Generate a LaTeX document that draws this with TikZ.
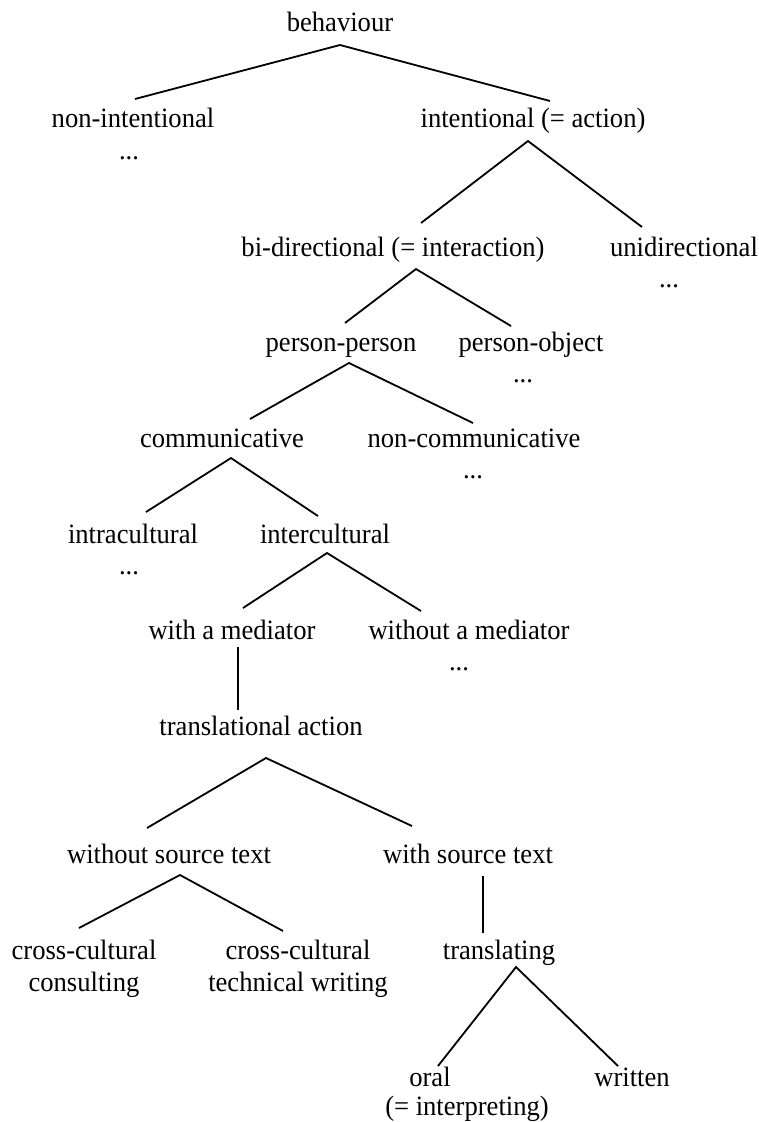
\documentclass[tikz,border=0pt]{standalone}
\usepackage{fontspec}
\setmainfont{Liberation Serif}[FakeStretch=0.95]
\begin{document}
\begin{tikzpicture}[x=1pt,y=-1pt,
  lbl/.style={inner sep=0pt, anchor=base, font=\fontsize{28}{32}\selectfont},
  lbltwo/.style={lbl, align=center},
  edge/.style={line width=1.8pt, line join=miter}]
\fill[white] (0,0) rectangle (759,1122);
\useasboundingbox (0,0) rectangle (759,1122);
% labels
\node[lbl] (beh) at (340,31) {behaviour};
\node[lbl] (nonint) at (133,127) {non-intentional};
\node[lbl] (d1) at (129,159) {...};
\node[lbl] (int) at (533,127) {intentional (= action)};
\node[lbl] (bi) at (393,256) {bi-directional (= interaction)};
\node[lbl] (uni) at (684,256) {unidirectional};
\node[lbl] (d2) at (669,287) {...};
\node[lbl] (pp) at (341,351) {person-person};
\node[lbl] (po) at (531,351) {person-object};
\node[lbl] (d3) at (523,382) {...};
\node[lbl] (comm) at (222,447) {communicative};
\node[lbl] (ncomm) at (474,447) {non-communicative};
\node[lbl] (d4) at (473,478) {...};
\node[lbl] (intra) at (133,543) {intracultural};
\node[lbl] (inter) at (325,543) {intercultural};
\node[lbl] (d5) at (129,574) {...};
\node[lbl] (wam) at (232,639) {with a mediator};
\node[lbl] (woam) at (469,639) {without a mediator};
\node[lbl] (d6) at (459,670) {...};
\node[lbl] (ta) at (261,735) {translational action};
\node[lbl] (wost) at (169,863) {without source text};
\node[lbl] (wst) at (468,863) {with source text};
\node[lbltwo] (ccc) at (84,991) {cross-cultural\\consulting};
\node[lbltwo] (cctw) at (298,991) {cross-cultural\\technical writing};
\node[lbl] (trans) at (499,959) {translating};
\node[lbl] (oral) at (430,1086) {oral};
\node[lbl] (interp) at (467,1115) {(= interpreting)};
\node[lbl] (written) at (632,1086) {written};
% connectors
\draw[edge] ([shift={(2,-28)}]nonint.base) -- ([shift={(0,14)}]beh.base) -- ([shift={(17,-26)}]int.base);
\draw[edge] ([shift={(28,-33)}]bi.base) -- ([shift={(-5,14)}]int.base) -- ([shift={(-42,-29)}]uni.base);
\draw[edge] ([shift={(4,-28)}]pp.base) -- ([shift={(23,13)}]bi.base) -- ([shift={(-20,-25)}]po.base);
\draw[edge] ([shift={(28,-28)}]comm.base) -- ([shift={(8,12)}]pp.base) -- ([shift={(-1,-24)}]ncomm.base);
\draw[edge] ([shift={(13,-31)}]intra.base) -- ([shift={(9,11)}]comm.base) -- ([shift={(-7,-27)}]inter.base);
\draw[edge] ([shift={(11,-31)}]wam.base) -- ([shift={(2,10)}]inter.base) -- ([shift={(-48,-28)}]woam.base);
\draw[edge] ([shift={(6,8)}]wam.base) -- ([shift={(-23,-25)}]ta.base);
\draw[edge] ([shift={(-22,-35)}]wost.base) -- ([shift={(5,23)}]ta.base) -- ([shift={(-56,-37)}]wst.base);
\draw[edge] ([shift={(-5,-63)}]ccc.base) -- ([shift={(11,12)}]wost.base) -- ([shift={(-15,-60)}]cctw.base);
\draw[edge] ([shift={(15,13)}]wst.base) -- ([shift={(-16,-26)}]trans.base);
\draw[edge] ([shift={(8,-20)}]oral.base) -- ([shift={(17,8)}]trans.base) -- ([shift={(-14,-20)}]written.base);
\end{tikzpicture}
\end{document}
